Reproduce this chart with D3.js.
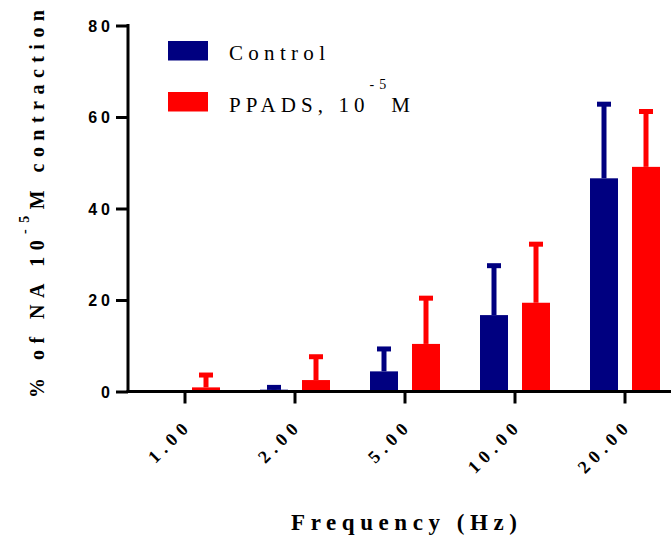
<!DOCTYPE html>
<html>
<head>
<meta charset="utf-8">
<script src="https://cdn.jsdelivr.net/npm/d3@7"></script>
<style>
  html, body { margin: 0; padding: 0; background: #fff; }
  svg { display: block; }
</style>
</head>
<body>
<svg id="chart" width="671" height="535"></svg>
<script>
// ---- data ----
const categories = ["1.00", "2.00", "5.00", "10.00", "20.00"];
const seriesNames = ["Control", "PPADS, 10^-5M"];
const controlMean = [0, 0.4, 4.4, 16.7, 46.6];
const controlErr  = [0, 0.5, 4.9, 10.8, 16.2];
const ppadsMean   = [0.9, 2.5, 10.4, 19.4, 49.1];
const ppadsErr    = [2.7, 5.1, 10.0, 12.8, 12.1];
const yTicks = [0, 20, 40, 60, 80];
const colors = ["#000080", "#ff0000"];

const SERIF = "Liberation Serif";
const SANS = "Liberation Sans";

const svg = d3.select("#chart");

// spread characters so the text spans a target width
function fitSpacing(sel, target) {
  const node = sel.node();
  sel.style("letter-spacing", "0px");
  const len = node.getComputedTextLength();
  const n = node.textContent.length;
  const ls = Math.max(0, (target - len) / (n - 1));
  sel.style("letter-spacing", ls + "px");
  return ls;
}

const x = d3.scaleBand().domain(categories).range([130, 680]).padding(0);
const xSub = d3.scaleBand().domain(seriesNames).range([-35, 35]).paddingInner(1/3).paddingOuter(0);
const y = d3.scaleLinear().domain([0, 80]).range([391.5, 25.5]);

const rows = categories.map((c, i) => ({
  cat: c,
  vals: [
    { s: seriesNames[0], v: controlMean[i], e: controlErr[i], col: colors[0] },
    { s: seriesNames[1], v: ppadsMean[i], e: ppadsErr[i], col: colors[1] }
  ]
}));

const g = svg.append("g");
const groups = g.selectAll("g.grp").data(rows).join("g")
  .attr("class", "grp")
  .attr("transform", d => `translate(${x(d.cat) + x.bandwidth() / 2},0)`);

groups.selectAll("line.err").data(d => d.vals.filter(v => v.e > 0)).join("line")
  .attr("class", "err")
  .attr("x1", d => xSub(d.s) + xSub.bandwidth() / 2)
  .attr("x2", d => xSub(d.s) + xSub.bandwidth() / 2)
  .attr("y1", d => y(d.v))
  .attr("y2", d => y(d.v + d.e))
  .attr("stroke", d => d.col)
  .attr("stroke-width", 5);
groups.selectAll("line.cap").data(d => d.vals.filter(v => v.e > 0)).join("line")
  .attr("class", "cap")
  .attr("x1", d => xSub(d.s) + xSub.bandwidth() / 2 - 7)
  .attr("x2", d => xSub(d.s) + xSub.bandwidth() / 2 + 7)
  .attr("y1", d => y(d.v + d.e))
  .attr("y2", d => y(d.v + d.e))
  .attr("stroke", d => d.col)
  .attr("stroke-width", 5);

groups.selectAll("rect").data(d => d.vals).join("rect")
  .attr("x", d => xSub(d.s))
  .attr("width", xSub.bandwidth())
  .attr("y", d => y(d.v))
  .attr("height", d => y(0) - y(d.v))
  .attr("fill", d => d.col);

// y axis
const yAxis = g.append("g").attr("transform", "translate(128,0)")
  .call(d3.axisLeft(y).tickValues(yTicks).tickSize(12).tickPadding(2));
yAxis.select(".domain").remove();
yAxis.selectAll(".tick line").attr("stroke", "#000").attr("stroke-width", 3);
yAxis.selectAll(".tick text")
  .attr("font-family", SANS).style("font-family", SANS)
  .attr("font-weight", "bold").attr("font-size", 16)
  .style("letter-spacing", "4px").attr("fill", "#000").attr("dy", "0.36em");
g.append("line").attr("x1", 128).attr("x2", 128).attr("y1", y(80) - 1.5).attr("y2", y(0) + 1.5)
  .attr("stroke", "#000").attr("stroke-width", 3);

// x axis
const xAxis = g.append("g").attr("transform", `translate(0,${y(0)})`)
  .call(d3.axisBottom(x).tickSize(12).tickFormat((d, i) => categories[i]));
xAxis.select(".domain").remove();
xAxis.selectAll(".tick line").attr("stroke", "#000").attr("stroke-width", 3);
xAxis.selectAll(".tick text")
  .attr("font-family", SERIF).style("font-family", SERIF)
  .attr("font-weight", "bold").attr("font-size", 18)
  .style("letter-spacing", "5.5px").attr("fill", "#000")
  .attr("text-anchor", "end")
  .attr("y", 0).attr("dy", 0)
  .attr("transform", "translate(8,35) rotate(-45)");
g.append("line").attr("x1", 126.5).attr("x2", 671).attr("y1", y(0)).attr("y2", y(0))
  .attr("stroke", "#000").attr("stroke-width", 3);

// x title
const xt = svg.append("text").attr("x", 291).attr("y", 530)
  .attr("font-family", SERIF).style("font-family", SERIF)
  .attr("font-weight", "bold").attr("font-size", 23)
  .attr("fill", "#000")
  .text("Frequency (Hz)");
fitSpacing(xt, 226);

// y title
const yt = svg.append("text")
  .attr("transform", "translate(44,398) rotate(-90)")
  .attr("font-family", SERIF).style("font-family", SERIF)
  .attr("font-weight", "bold").attr("font-size", 20)
  .attr("fill", "#000");
yt.append("tspan").text("% of NA 10");
yt.append("tspan").attr("dy", -15).attr("font-size", 14).text("-5");
yt.append("tspan").attr("dy", 15).text("M contraction");
fitSpacing(yt, 388);

// legend
const leg = svg.append("g");
const legY = [41, 92];
seriesNames.forEach((s, i) => {
  leg.append("rect").attr("x", 168).attr("y", legY[i]).attr("width", 40).attr("height", 19.5)
    .attr("fill", colors[i]);
});
const l1 = leg.append("text").attr("x", 229).attr("y", 60)
  .attr("font-family", SERIF).style("font-family", SERIF)
  .attr("font-size", 21).attr("fill", "#000")
  .text(seriesNames[0]);
fitSpacing(l1, 96);
const lt = leg.append("text").attr("x", 229).attr("y", 112)
  .attr("font-family", SERIF).style("font-family", SERIF)
  .attr("font-size", 21).attr("fill", "#000");
lt.append("tspan").text("PPADS, 10");
lt.append("tspan").attr("dy", -23).attr("font-size", 14).text("-5");
lt.append("tspan").attr("dy", 23).text("M");
fitSpacing(lt, 181);
</script>
</body>
</html>
